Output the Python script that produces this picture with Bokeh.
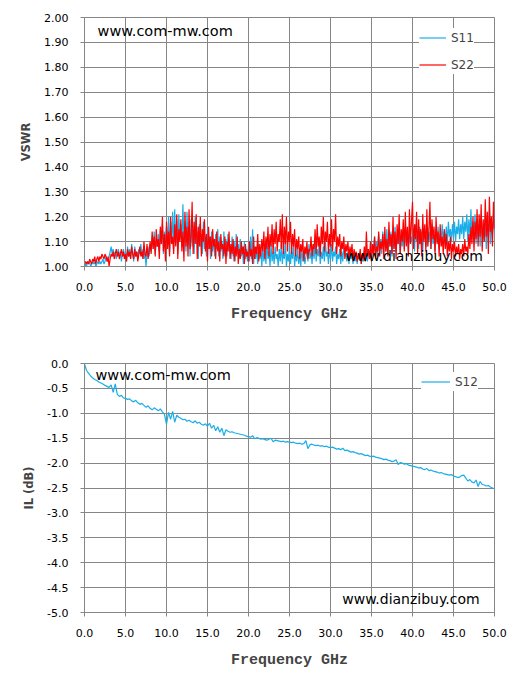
import numpy as np
from bokeh.plotting import figure
from bokeh.layouts import column
from bokeh.models import FixedTicker, PrintfTickFormatter, Label, Range1d
from bokeh.embed import file_html
from bokeh.resources import INLINE

# ---------------- data ----------------
s11_vswr = [
    1.00,1.01,1.00,1.02,1.01,1.02,1.00,1.01, 1.02,1.01,1.02,1.00,1.01,1.02,1.01,1.02,
    1.01,1.02,1.03,1.01,1.02,1.04,1.03,1.02, 1.04,1.06,1.08,1.05,1.07,1.04,1.06,1.03,
    1.05,1.07,1.04,1.06,1.02,1.05,1.07,1.03,
    1.06,1.02,1.08,1.04,1.07,1.03,1.09,1.05, 1.02,1.08,1.04,1.06,1.03,1.07,1.05,1.09,
    1.04,1.07,1.03,1.06,1.00,1.05,1.08,1.04, 1.09,1.06,1.12,1.07,1.14,1.05,1.10,1.08,
    1.13,1.06,1.15,1.09,1.17,1.05,1.14,1.08,
    1.16,1.09,1.20,1.06,1.18,1.10,1.22,1.07, 1.23,1.09,1.19,1.05,1.21,1.11,1.17,1.08,
    1.25,1.10,1.18,1.06,1.22,1.09,1.16,1.04, 1.19,1.08,1.15,1.05,1.20,1.09,1.14,1.03,
    1.17,1.08,1.13,1.05,1.18,1.07,1.12,1.04,
    1.15,1.07,1.12,1.03,1.14,1.06,1.11,1.04, 1.13,1.07,1.15,1.04,1.12,1.06,1.10,1.03,
    1.14,1.05,1.11,1.04,1.13,1.06,1.09,1.03, 1.12,1.04,1.10,1.02,1.13,1.05,1.09,1.03,
    1.11,1.04,1.08,1.01,1.10,1.03,1.07,1.02,
    1.09,1.02,1.12,1.03,1.15,1.01,1.08,1.03, 1.07,1.01,1.09,1.03,1.06,1.00,1.08,1.02,
    1.07,1.01,1.10,1.03,1.06,1.00,1.09,1.02, 1.06,1.01,1.08,1.03,1.05,1.00,1.07,1.02,
    1.09,1.01,1.06,1.03,1.10,1.00,1.05,1.02,
    1.08,1.01,1.06,1.03,1.09,1.00,1.05,1.02, 1.07,1.01,1.05,1.00,1.08,1.02,1.06,1.01,
    1.04,1.07,1.02,1.09,1.03,1.06,1.01,1.08, 1.03,1.10,1.02,1.07,1.04,1.09,1.01,1.06,
    1.03,1.08,1.02,1.10,1.04,1.06,1.01,1.07,
    1.03,1.09,1.02,1.06,1.04,1.08,1.01,1.05, 1.03,1.07,1.01,1.06,1.02,1.08,1.04,1.05,
    1.02,1.06,1.01,1.07,1.03,1.05,1.01,1.06, 1.02,1.05,1.01,1.04,1.03,1.06,1.01,1.04,
    1.02,1.06,1.03,1.08,1.02,1.05,1.04,1.07,
    1.04,1.09,1.05,1.12,1.06,1.10,1.04,1.13, 1.07,1.11,1.05,1.14,1.08,1.10,1.06,1.15,
    1.05,1.12,1.08,1.14,1.04,1.11,1.07,1.16, 1.06,1.13,1.09,1.15,1.05,1.12,1.08,1.14,
    1.07,1.16,1.09,1.13,1.06,1.15,1.10,1.12,
    1.08,1.15,1.06,1.17,1.10,1.13,1.07,1.16, 1.09,1.14,1.06,1.15,1.11,1.13,1.08,1.16,
    1.10,1.14,1.07,1.17,1.09,1.12,1.06,1.15, 1.10,1.16,1.08,1.13,1.11,1.17,1.09,1.14,
    1.11,1.16,1.09,1.18,1.12,1.15,1.10,1.17,
    1.12,1.18,1.10,1.16,1.13,1.19,1.11,1.17, 1.13,1.20,1.11,1.18,1.14,1.21,1.10,1.19,
    1.12,1.23,1.11,1.18,1.14,1.21,1.09,1.19, 1.12,1.17,1.08,1.20,1.13,1.16,1.10,1.19,
    1.07,1.18,1.12,1.22,1.09,1.16,1.13,1.21,1.14,
]
s22_vswr = [
    1.01,1.02,1.01,1.02,1.01,1.03,1.02,1.01, 1.03,1.02,1.04,1.01,1.03,1.04,1.02,1.04,
    1.03,1.05,1.04,1.03,1.05,1.04,1.02,1.04, 1.00,1.03,1.05,1.04,1.06,1.03,1.05,1.07,
    1.04,1.06,1.03,1.05,1.07,1.04,1.06,1.03,
    1.05,1.02,1.07,1.04,1.06,1.03,1.08,1.05, 1.03,1.07,1.04,1.06,1.02,1.05,1.08,1.04,
    1.06,1.03,1.10,1.05,1.04,1.09,1.03,1.06, 1.10,1.05,1.14,1.07,1.12,1.04,1.15,1.08,
    1.11,1.03,1.16,1.09,1.20,1.06,1.13,1.02,
    1.18,1.07,1.14,1.04,1.20,1.09,1.12,1.05, 1.17,1.08,1.21,1.03,1.15,1.10,1.19,1.06,
    1.14,1.02,1.22,1.08,1.16,1.04,1.23,1.07, 1.12,1.26,1.05,1.18,1.09,1.21,1.03,1.16,
    1.08,1.20,1.04,1.15,1.10,1.19,1.06,1.13,
    1.02,1.16,1.07,1.12,1.04,1.15,1.08,1.11, 1.03,1.14,1.06,1.10,1.02,1.13,1.07,1.09,
    1.04,1.12,1.01,1.10,1.06,1.14,1.03,1.09, 1.05,1.11,1.02,1.08,1.04,1.12,1.01,1.07,
    1.03,1.10,1.05,1.08,1.01,1.09,1.04,1.06,
    1.02,1.10,1.04,1.07,1.01,1.12,1.03,1.08, 1.05,1.13,1.02,1.09,1.04,1.11,1.06,1.14,
    1.03,1.12,1.07,1.16,1.04,1.13,1.08,1.17, 1.05,1.15,1.09,1.18,1.06,1.13,1.10,1.19,
    1.07,1.21,1.05,1.16,1.09,1.20,1.06,1.14,
    1.10,1.18,1.05,1.13,1.08,1.15,1.04,1.11, 1.07,1.12,1.03,1.09,1.06,1.11,1.02,1.08,
    1.05,1.10,1.03,1.07,1.06,1.12,1.04,1.09, 1.07,1.15,1.05,1.17,1.08,1.12,1.04,1.16,
    1.09,1.20,1.06,1.14,1.10,1.18,1.05,1.13,
    1.08,1.19,1.06,1.15,1.10,1.21,1.05,1.12, 1.08,1.13,1.04,1.10,1.07,1.12,1.03,1.09,
    1.06,1.10,1.03,1.08,1.05,1.09,1.02,1.07, 1.04,1.06,1.02,1.05,1.03,1.07,1.01,1.05,
    1.03,1.08,1.02,1.14,1.04,1.07,1.03,1.10,
    1.02,1.09,1.05,1.12,1.03,1.08,1.06,1.14, 1.04,1.10,1.07,1.13,1.03,1.16,1.06,1.11,
    1.04,1.18,1.08,1.13,1.05,1.20,1.07,1.14, 1.03,1.17,1.09,1.21,1.05,1.15,1.10,1.19,
    1.06,1.22,1.08,1.16,1.04,1.23,1.09,1.18,
    1.26,1.07,1.17,1.11,1.22,1.05,1.19,1.09, 1.15,1.04,1.21,1.10,1.17,1.06,1.23,1.08,
    1.14,1.26,1.07,1.19,1.11,1.16,1.05,1.20, 1.09,1.14,1.04,1.17,1.08,1.12,1.05,1.15,
    1.07,1.13,1.04,1.10,1.06,1.12,1.03,1.09,
    1.06,1.10,1.04,1.08,1.05,1.09,1.03,1.07, 1.05,1.09,1.04,1.11,1.06,1.08,1.05,1.13,
    1.07,1.16,1.09,1.20,1.06,1.18,1.11,1.23, 1.08,1.21,1.12,1.25,1.06,1.19,1.10,1.27,
    1.12,1.22,1.05,1.28,1.14,1.20,1.08,1.26,1.15,
]
s12_il_db = [
    -0.01,-0.14,-0.20,-0.25,-0.29,-0.32,-0.34,-0.37,-0.39,-0.41,-0.44,-0.46,-0.48,-0.43,-0.58,-0.41,-0.62,-0.66,-0.64,-0.69,
    -0.70,-0.72,-0.71,-0.75,-0.77,-0.74,-0.79,-0.82,-0.80,-0.84,-0.88,-0.85,-0.90,-0.93,-0.89,-0.92,-0.95,-0.91,-0.97,-1.02,
    -1.22,-0.98,-1.12,-0.96,-1.18,-1.04,-1.08,-1.10,-1.13,-1.12,-1.16,-1.14,-1.17,-1.19,-1.15,-1.20,-1.18,-1.22,-1.24,-1.21,
    -1.26,-1.20,-1.30,-1.24,-1.35,-1.27,-1.38,-1.30,-1.45,-1.33,-1.36,-1.38,-1.37,-1.39,-1.40,-1.41,-1.42,-1.43,-1.44,-1.46,
    -1.47,-1.48,-1.45,-1.51,-1.49,-1.50,-1.52,-1.51,-1.53,-1.54,-1.52,-1.50,-1.57,-1.54,-1.55,-1.56,-1.57,-1.56,-1.58,-1.57,
    -1.58,-1.59,-1.58,-1.60,-1.61,-1.60,-1.62,-1.61,-1.55,-1.71,-1.63,-1.62,-1.64,-1.65,-1.64,-1.66,-1.65,-1.67,-1.66,-1.68,
    -1.69,-1.68,-1.70,-1.72,-1.71,-1.73,-1.70,-1.75,-1.74,-1.76,-1.78,-1.77,-1.79,-1.80,-1.82,-1.81,-1.83,-1.85,-1.84,-1.86,
    -1.87,-1.86,-1.88,-1.89,-1.90,-1.91,-1.93,-1.92,-1.94,-1.95,-1.97,-1.96,-1.93,-2.03,-1.99,-2.00,-2.02,-2.01,-2.04,-2.05,
    -2.06,-2.07,-2.08,-2.10,-2.09,-2.12,-2.13,-2.11,-2.15,-2.14,-2.16,-2.17,-2.18,-2.20,-2.19,-2.21,-2.22,-2.23,-2.24,-2.23,
    -2.26,-2.27,-2.29,-2.28,-2.25,-2.24,-2.30,-2.36,-2.33,-2.38,-2.40,-2.34,-2.47,-2.37,-2.43,-2.44,-2.46,-2.45,-2.48,-2.50,-2.51,
]
freq_ticks = [0.0, 5.0, 10.0, 15.0, 20.0, 25.0, 30.0, 35.0, 40.0, 45.0, 50.0]
vswr_ticks = [1.0, 1.1, 1.2, 1.3, 1.4, 1.5, 1.6, 1.7, 1.8, 1.9, 2.0]
il_ticks = [0.0, -0.5, -1.0, -1.5, -2.0, -2.5, -3.0, -3.5, -4.0, -4.5, -5.0]


def sweep(values):
    # frequency sweep points, evenly spaced from 0 to 50 GHz
    return np.linspace(0.0, 50.0, len(values))


GRID = "#868686"
S11_COLOR = "#1AAEE8"
S22_COLOR = "#FF0000"


def style(p, ylabel, yticks, yfmt):
    for ax in (p.xaxis[0], p.yaxis[0]):
        ax.axis_line_color = GRID
        ax.major_tick_line_color = GRID
        ax.major_tick_in = 0
        ax.major_tick_out = 4
        ax.minor_tick_line_color = None
        ax.major_label_text_font = "DejaVu Sans"
        ax.major_label_text_font_size = "11px"
        ax.major_label_text_color = "#000000"
        ax.major_label_standoff = 12
    xt = FixedTicker(ticks=freq_ticks)
    yt = FixedTicker(ticks=yticks)
    p.xaxis.ticker = xt
    p.yaxis.ticker = yt
    p.xgrid.ticker = xt
    p.ygrid.ticker = yt
    p.xaxis.formatter = PrintfTickFormatter(format="%.1f")
    p.yaxis.formatter = PrintfTickFormatter(format=yfmt)
    p.xaxis.axis_label = "Frequency GHz"
    p.xaxis.axis_label_text_font = "Liberation Mono"
    p.xaxis.axis_label_text_font_style = "bold"
    p.xaxis.axis_label_text_font_size = "15px"
    p.xaxis.axis_label_standoff = 12
    p.yaxis.axis_label = ylabel
    p.yaxis.axis_label_text_font = "DejaVu Sans"
    p.yaxis.axis_label_text_font_style = "bold"
    p.yaxis.axis_label_text_font_size = "11.5px"
    p.yaxis.axis_label_standoff = 8
    p.xgrid.grid_line_color = GRID
    p.ygrid.grid_line_color = GRID
    p.outline_line_color = GRID
    p.background_fill_color = "white"
    p.border_fill_color = "white"


def style_legend(p, loc, glyph_w):
    lg = p.legend[0]
    lg.location = loc
    lg.margin = 0
    lg.padding = 4
    lg.spacing = 8
    lg.border_line_color = None
    lg.background_fill_color = "white"
    lg.background_fill_alpha = 1.0
    lg.glyph_width = glyph_w
    lg.label_standoff = 5
    lg.label_text_font = "DejaVu Sans"
    lg.label_text_font_size = "12px"
    lg.label_height = 19
    lg.glyph_height = 19


def watermark(p, x, y, txt, size):
    p.add_layout(Label(x=x, y=y, text=txt, text_font="DejaVu Sans",
                       text_font_size=size, text_baseline="middle",
                       text_align="left", text_color="#000000"))


# ---------------- top: VSWR ----------------
p1 = figure(output_backend="svg", toolbar_location=None,
            frame_width=410, frame_height=249,
            x_range=Range1d(0, 50), y_range=Range1d(1.0, 2.0),
            min_border_left=84, min_border_right=27,
            min_border_top=17, min_border_bottom=77)
style(p1, "VSWR", vswr_ticks, "%.2f")
p1.line(sweep(s11_vswr), s11_vswr, color=S11_COLOR, line_width=1.2, legend_label="S11")
p1.line(sweep(s22_vswr), s22_vswr, color=S22_COLOR, line_width=1.2, legend_label="S22")
style_legend(p1, (335, 192), 27)
watermark(p1, 1.59, 1.944, "www.com-mw.com", "14.5px")
watermark(p1, 31.83, 1.044, "www.dianzibuy.com", "14px")

# ---------------- bottom: IL ----------------
p2 = figure(output_backend="svg", toolbar_location=None,
            frame_width=410, frame_height=249,
            x_range=Range1d(0, 50), y_range=Range1d(-5.0, 0.0),
            min_border_left=84, min_border_right=27,
            min_border_top=20, min_border_bottom=65)
style(p2, "IL (dB)", il_ticks, "%.1f")
p2.line(sweep(s12_il_db), s12_il_db, color=S11_COLOR, line_width=1.2, legend_label="S12")
style_legend(p2, (337, 221), 29)
watermark(p2, 1.34, -0.221, "www.com-mw.com", "14.5px")
watermark(p2, 31.43, -4.72, "www.dianzibuy.com", "14px")

layout = column(p1, p2, spacing=0)
open("out.html", "w").write(file_html(layout, INLINE))
